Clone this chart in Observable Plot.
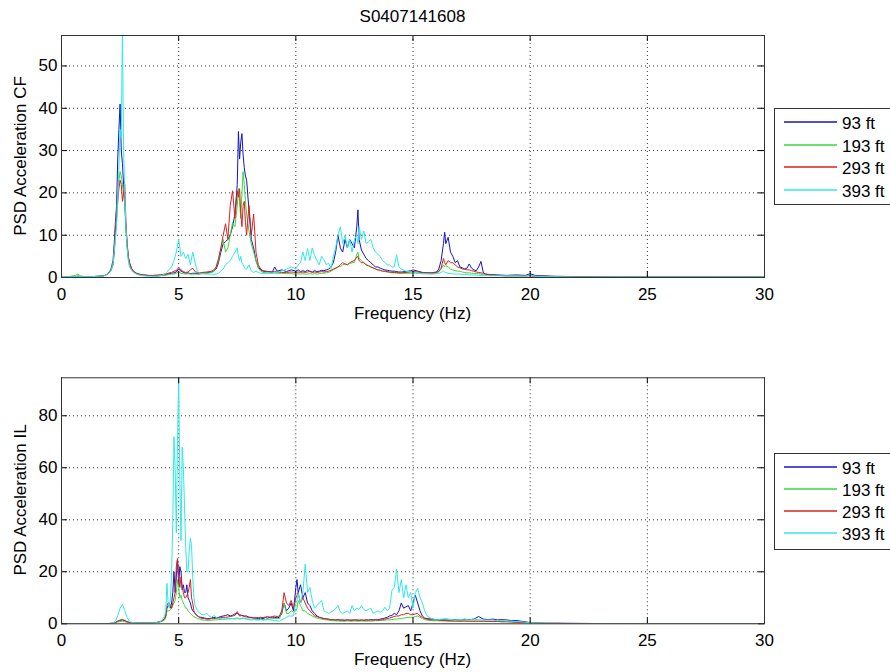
<!DOCTYPE html>
<html><head><meta charset="utf-8">
<script src="https://cdn.jsdelivr.net/npm/d3@7"></script>
<script src="https://cdn.jsdelivr.net/npm/@observablehq/plot@0.6"></script>
<style>
html,body{margin:0;padding:0;background:#fff;}
#fig{position:relative;width:890px;height:672px;overflow:hidden;background:#fff;font-family:"Liberation Sans",Arial,sans-serif;font-size:17px;color:#000;}
.abs{position:absolute;white-space:nowrap;line-height:20px;height:20px;}
</style></head><body><div id="fig"></div><script>
// ---------- data ----------
const title = "S0407141608";
const seriesNames = ["93 ft", "193 ft", "293 ft", "393 ft"];
const seriesColors = ["#1515c0", "#3ad83a", "#dd2020", "#30e8e8"];
const xTicks = [0, 5, 10, 15, 20, 25, 30];
const yTicksCF = [0, 10, 20, 30, 40, 50];
const yTicksIL = [0, 20, 40, 60, 80];
const xLabel = "Frequency (Hz)";
const yLabelCF = "PSD Acceleration CF";
const yLabelIL = "PSD Acceleration IL";

// Panel 1 (CF)
const freqCF = [
0, 0.3, 0.6, 0.7, 0.8, 1.0, 1.3, 1.6, 1.8, 1.9,
2.0, 2.1, 2.2, 2.25, 2.3, 2.35, 2.4, 2.45, 2.5, 2.55,
2.6, 2.65, 2.7, 2.75, 2.8, 2.85, 2.9, 3.0, 3.1, 3.2,
3.3, 3.5, 3.7, 3.9, 4.1, 4.3, 4.5, 4.6, 4.7, 4.8,
4.9, 5.0, 5.1, 5.2, 5.3, 5.4, 5.5, 5.6, 5.7, 5.8,
5.9, 6.0, 6.2, 6.4, 6.5, 6.6, 6.7, 6.8, 6.9, 7.0,
7.1, 7.2, 7.3, 7.4, 7.5, 7.55, 7.6, 7.65, 7.7, 7.75,
7.8, 7.85, 7.9, 8.0, 8.1, 8.2, 8.3, 8.4, 8.5, 8.6,
8.8, 9.0, 9.1, 9.2, 9.4, 9.6, 9.8, 10.0, 10.1, 10.2,
10.3, 10.4, 10.5, 10.6, 10.7, 10.8, 10.9, 11.0, 11.1, 11.2,
11.3, 11.4, 11.5, 11.6, 11.7, 11.8, 11.9, 12.0, 12.1, 12.2,
12.3, 12.4, 12.5, 12.6, 12.65, 12.7, 12.8, 12.9, 13.0, 13.1,
13.2, 13.3, 13.4, 13.5, 13.6, 13.7, 13.8, 13.9, 14.0, 14.1,
14.2, 14.3, 14.4, 14.5, 14.7, 14.9, 15.0, 15.2, 15.4, 15.6,
15.8, 16.0, 16.1, 16.2, 16.3, 16.35, 16.4, 16.5, 16.6, 16.7,
16.8, 16.9, 17.0, 17.1, 17.2, 17.3, 17.4, 17.5, 17.6, 17.7,
17.8, 17.9, 18.0, 18.1, 18.3, 18.6, 19.0, 19.4, 19.8, 20.0,
20.2, 20.6, 21, 22, 23, 24, 25, 26, 27, 28,
29, 30];
const cf93 = [
0.2, 0.2, 0.2, 0.3, 0.2, 0.2, 0.2, 0.3, 0.4, 0.6,
1.0, 1.8, 4, 8, 13, 17, 28, 35, 41, 30,
27, 22, 18, 12, 8, 5, 3.5, 2, 1.3, 1,
0.8, 0.6, 0.5, 0.4, 0.4, 0.5, 0.7, 0.9, 1, 1.1,
1.3, 2, 1.5, 1.2, 1, 1.1, 0.9, 1, 1, 0.9,
0.9, 1, 1.1, 1.3, 1.5, 2, 3.5, 6, 8, 8.5,
9, 10, 12, 15, 22, 34.5, 28, 32, 34, 29,
26, 24, 23, 16, 9, 7, 4, 2.5, 1.8, 1.5,
1.4, 1.3, 2.5, 1.5, 1.8, 1.4, 1.8, 1.5, 1.8, 1.4,
1.6, 1.4, 1.7, 1.5, 1.3, 1.6, 1.4, 1.5, 1.7, 1.6,
1.8, 2, 2.5, 3.5, 6, 10, 7, 6, 9, 7,
9, 8, 7, 12, 16, 9, 6.5, 5.5, 4.5, 4,
3.5, 3, 2.5, 2.5, 2.2, 2, 1.8, 1.7, 1.6, 1.5,
1.5, 1.4, 1.3, 1.3, 1.4, 1.6, 1.8, 1.5, 1.2, 1.1,
1.1, 1.3, 2, 4, 8, 10.7, 8, 9.5, 6, 5,
3.5, 4, 2.5, 2.3, 2, 2.2, 3.2, 2.2, 1.8, 1.6,
2.5, 3.8, 1.2, 0.8, 0.7, 0.6, 0.5, 0.6, 0.5, 0.9,
0.5, 0.4, 0.3, 0.2, 0.15, 0.1, 0.1, 0.1, 0.1, 0.1,
0.1, 0.1];
const cf193 = [
0.2, 0.2, 0.5, 0.8, 0.4, 0.2, 0.2, 0.3, 0.4, 0.6,
1.0, 1.6, 3.5, 6, 10, 15, 20, 23, 25, 24,
22, 20, 17, 11, 7, 4.5, 3, 1.8, 1.2, 0.9,
0.7, 0.5, 0.4, 0.4, 0.4, 0.5, 0.6, 0.7, 0.8, 0.8,
1, 1.3, 1, 0.9, 0.8, 0.9, 0.8, 0.8, 0.8, 0.8,
0.8, 0.9, 1, 1.2, 1.4, 2.5, 4, 7, 9, 6,
7, 10, 13, 12, 17, 21, 18, 14, 20, 25,
22, 18, 15, 11, 8, 6, 4, 2.2, 1.5, 1.2,
1.1, 1, 1.1, 1, 1, 0.9, 0.9, 0.8, 0.9, 0.8,
0.9, 0.8, 0.8, 0.9, 0.8, 0.9, 0.8, 0.9, 1, 1,
1.1, 1.2, 1.5, 1.8, 2.2, 2.5, 2.6, 3, 3.2, 3,
3.3, 3.5, 3.6, 5.5, 6, 4.5, 4, 3.5, 3, 2.8,
2.5, 2.2, 2, 1.8, 1.7, 1.5, 1.4, 1.3, 1.2, 1.1,
1.1, 1, 1, 1, 1, 1, 1.1, 1, 0.9, 0.9,
0.9, 1, 1.3, 2, 3, 2.5, 2.8, 2.5, 2, 1.8,
1.6, 1.5, 1.5, 1.3, 1.2, 1.1, 1.1, 1, 1, 0.9,
0.9, 0.8, 0.7, 0.6, 0.5, 0.5, 0.4, 0.4, 0.4, 0.5,
0.3, 0.3, 0.2, 0.15, 0.1, 0.1, 0.1, 0.1, 0.1, 0.1,
0.1, 0.1];
const cf293 = [
0.2, 0.2, 0.2, 0.3, 0.2, 0.2, 0.2, 0.3, 0.4, 0.6,
1.0, 1.5, 3, 6, 11, 14, 18, 21, 23, 22,
18, 20, 22, 13, 8, 5, 3.5, 2, 1.3, 1,
0.8, 0.6, 0.5, 0.5, 0.6, 0.7, 0.9, 1.1, 1.2, 1.5,
1.6, 2.4, 1.8, 1.4, 1.2, 1.3, 1.8, 2.2, 1.4, 1.2,
1.1, 1.2, 1.3, 1.5, 1.8, 2.5, 4.5, 7, 10, 12.7,
9, 17, 20.5, 14, 20.5, 19, 21, 15, 12, 17,
18, 13, 10, 17, 10, 15, 6, 3, 2, 1.6,
1.4, 1.3, 1.4, 1.3, 1.2, 1.2, 1.3, 1.2, 1.3, 1.2,
1.3, 1.2, 1.3, 1.4, 1.2, 1.3, 1.2, 1.3, 1.4, 1.3,
1.4, 1.5, 1.7, 2, 2.2, 2.5, 3, 3.5, 3.2, 3,
3.5, 3.8, 4, 4.8, 5, 4, 3.5, 3.5, 3, 2.8,
2.5, 2.3, 2, 1.8, 1.7, 1.5, 1.5, 1.4, 1.3, 1.2,
1.2, 1.2, 1.1, 1.1, 1.2, 1.3, 1.4, 1.3, 1.2, 1.1,
1.1, 1.2, 1.5, 2.2, 4.5, 3.5, 3, 4, 3.5, 3.5,
3, 2.5, 2.3, 2, 2, 1.8, 1.8, 1.6, 1.5, 1.3,
1.2, 1.1, 1, 0.8, 0.6, 0.5, 0.4, 0.4, 0.4, 0.4,
0.3, 0.3, 0.2, 0.15, 0.1, 0.1, 0.1, 0.1, 0.1, 0.1,
0.1, 0.1];
const cf393 = [
0.2, 0.2, 0.2, 0.3, 0.2, 0.2, 0.2, 0.3, 0.4, 0.6,
1.0, 1.5, 3, 6, 9, 12, 18, 26, 35, 33,
58, 30, 20, 12, 7, 4, 2.5, 1.6, 1.1, 0.8,
0.6, 0.4, 0.3, 0.3, 0.3, 0.5, 1.2, 2, 2.5, 4,
6, 9, 5, 6, 4.5, 5.5, 3, 6, 3.5, 1.5,
1, 0.9, 0.8, 0.8, 0.7, 0.8, 1, 1.5, 2, 3,
3.5, 4, 5, 6, 7, 5, 4, 5, 3.5, 3,
2.5, 2, 2, 3, 1.5, 1.2, 1.5, 1.2, 1, 1,
1, 1, 1.1, 1.2, 1.5, 2, 2.5, 2, 3, 3.5,
6, 4, 6.8, 4, 7, 5.2, 4, 3, 5, 4.2,
3, 3.4, 2, 5, 7, 10, 12, 8, 10, 7,
9, 6, 9, 10, 8, 12, 9, 11, 8, 8.5,
9, 7, 6, 5.5, 5, 4, 3.5, 3, 3, 2.5,
2.5, 5.4, 2.5, 2, 1.5, 1.3, 1.2, 1, 0.9, 0.9,
0.8, 0.9, 1, 1.2, 1.5, 1.3, 1.2, 1, 0.9, 0.9,
0.8, 0.8, 0.8, 0.7, 0.7, 0.7, 0.6, 0.6, 0.6, 0.6,
0.5, 0.5, 0.5, 0.5, 0.4, 0.4, 0.4, 0.4, 0.3, 0.6,
0.3, 0.2, 0.2, 0.1, 0.1, 0.1, 0.1, 0.1, 0.1, 0.1,
0.1, 0.1];

// Panel 2 (IL)
const freqIL = [
0, 0.5, 1.0, 1.5, 2.0, 2.2, 2.3, 2.4, 2.5, 2.6,
2.7, 2.8, 2.9, 3.0, 3.2, 3.5, 3.8, 4.0, 4.2, 4.3,
4.4, 4.45, 4.5, 4.55, 4.6, 4.65, 4.7, 4.75, 4.8, 4.85,
4.9, 4.95, 5.0, 5.05, 5.1, 5.15, 5.2, 5.25, 5.3, 5.35,
5.4, 5.45, 5.5, 5.55, 5.6, 5.65, 5.7, 5.8, 5.9, 6.0,
6.1, 6.2, 6.3, 6.4, 6.5, 6.6, 6.7, 6.8, 6.9, 7.0,
7.1, 7.2, 7.3, 7.4, 7.5, 7.6, 7.7, 7.8, 7.9, 8.0,
8.1, 8.2, 8.3, 8.4, 8.5, 8.6, 8.7, 8.8, 8.9, 9.0,
9.1, 9.2, 9.3, 9.4, 9.5, 9.6, 9.7, 9.8, 9.9, 10.0,
10.05, 10.1, 10.2, 10.3, 10.4, 10.5, 10.6, 10.7, 10.8, 10.9,
11.0, 11.1, 11.2, 11.3, 11.4, 11.5, 11.6, 11.7, 11.8, 11.9,
12.0, 12.1, 12.2, 12.3, 12.4, 12.5, 12.6, 12.7, 12.8, 12.9,
13.0, 13.1, 13.2, 13.3, 13.4, 13.5, 13.6, 13.7, 13.8, 13.9,
14.0, 14.1, 14.2, 14.3, 14.4, 14.5, 14.6, 14.7, 14.8, 14.9,
15.0, 15.1, 15.2, 15.3, 15.4, 15.5, 15.6, 15.8, 16.0, 16.2,
16.4, 16.6, 16.8, 17.0, 17.2, 17.4, 17.6, 17.8, 18.0, 18.2,
18.4, 18.6, 18.8, 19.0, 19.2, 19.4, 19.6, 19.8, 20.0, 20.3,
20.6, 21, 22, 23, 24, 25, 26, 27, 28, 29,
30];
const il93 = [
0.1, 0.1, 0.1, 0.1, 0.1, 0.2, 0.5, 1, 1.3, 1.5,
1.2, 0.8, 0.5, 0.4, 0.3, 0.3, 0.3, 0.4, 0.8, 1.2,
2, 3, 6, 7, 7, 6, 8, 12, 20, 12,
18, 25, 15, 22, 20, 13, 15, 12, 12, 15,
10, 9, 8, 6, 5, 4.5, 4, 3, 2.5, 2.5,
2.2, 2, 2, 2.2, 2.5, 2.3, 2.5, 2.8, 3, 3.2,
3.5, 3, 3.3, 3.8, 4, 3.5, 3.2, 3, 3, 2.5,
2.5, 2.3, 2.2, 2, 2.2, 2, 2.4, 2.2, 2.5, 2.5,
2.5, 2.3, 2.5, 4, 8, 5, 6, 8, 5, 14,
17, 12, 15, 10, 12, 8, 7, 5, 4, 3,
2.5, 2.2, 2, 1.8, 1.7, 1.5, 1.5, 1.4, 1.5, 1.4,
1.4, 1.3, 1.5, 1.4, 1.3, 1.5, 1.4, 1.3, 1.4, 1.3,
1.5, 1.4, 1.6, 1.5, 1.6, 1.5, 1.8, 2, 2.2, 2.5,
3, 3.2, 4, 3.5, 5, 8, 6, 6.5, 7, 5,
8, 11, 8, 5, 3, 2.2, 2, 1.8, 1.6, 1.5,
1.5, 1.4, 1.6, 1.5, 1.7, 1.6, 1.8, 2.8, 1.8, 1.6,
1.8, 1.5, 1.6, 1.5, 1.2, 1.3, 1, 0.8, 0.4, 0.3,
0.2, 0.2, 0.15, 0.1, 0.1, 0.1, 0.1, 0.1, 0.1, 0.1,
0.1];
const il193 = [
0.1, 0.1, 0.1, 0.1, 0.1, 0.2, 0.4, 0.7, 0.9, 1,
0.8, 0.6, 0.4, 0.3, 0.3, 0.3, 0.3, 0.4, 0.7, 1,
1.5, 2.5, 5, 5, 5, 5.5, 6, 7, 8, 9,
12, 17, 14, 10, 11, 9, 8, 7, 6, 6,
5, 4.5, 4, 3.5, 3, 2.8, 2.5, 2, 1.8, 1.5,
1.4, 1.3, 1.3, 1.4, 1.5, 1.5, 1.6, 1.7, 1.8, 1.8,
1.9, 2, 2, 2.1, 2.2, 2, 2.2, 2, 1.9, 1.8,
1.8, 1.7, 1.6, 1.6, 1.7, 1.6, 1.7, 1.8, 1.8, 2,
2, 2, 2, 5, 8, 4, 4, 5, 4.5, 5,
6, 9, 7, 5, 5, 4, 3.5, 3, 2.5, 2.2,
2, 1.8, 1.6, 1.5, 1.4, 1.2, 1.2, 1.1, 1.1, 1,
1, 1, 1.1, 1, 1, 1.1, 1, 1, 1.1, 1,
1, 1.1, 1, 1.1, 1.2, 1.2, 1.3, 1.3, 1.4, 1.5,
1.5, 1.6, 1.8, 1.8, 2, 2, 2.2, 2.3, 2.5, 2.5,
2.5, 2.8, 3, 2.5, 2, 1.6, 1.4, 1.2, 1.2, 1.1,
1.1, 1, 1, 1, 1, 1, 1, 1, 1, 1,
0.9, 0.9, 0.8, 0.8, 0.7, 0.6, 0.5, 0.4, 0.3, 0.2,
0.2, 0.15, 0.1, 0.1, 0.1, 0.1, 0.1, 0.1, 0.1, 0.1,
0.1];
const il293 = [
0.1, 0.1, 0.1, 0.1, 0.1, 0.2, 0.5, 1, 1.4, 1.6,
1.3, 0.8, 0.5, 0.4, 0.3, 0.3, 0.3, 0.4, 0.8, 1.2,
2, 3, 7, 8, 8, 7, 6, 8, 10, 12,
22, 25, 18, 14, 18, 14, 12, 10, 10, 11,
12, 14, 17, 10, 8, 5, 4, 3, 2.5, 2,
2, 1.8, 1.8, 2, 2, 2.2, 2.2, 2.4, 2.5, 2.5,
2.6, 2.8, 3, 3.2, 4.7, 3, 3.2, 2.8, 2.6, 2.5,
2.4, 2.2, 2.3, 2.4, 2.5, 2.4, 2.6, 2.8, 2.5, 2.8,
3, 2.8, 3, 5, 12, 8, 7, 9, 6, 10,
11, 12, 8, 10, 8, 6, 5, 4, 3, 2.8,
2.5, 2.3, 2, 2, 1.8, 1.6, 1.6, 1.5, 1.6, 1.5,
1.5, 1.4, 1.5, 1.4, 1.5, 1.4, 1.5, 1.4, 1.5, 1.4,
1.5, 1.4, 1.5, 1.4, 1.5, 1.4, 1.5, 1.6, 1.8, 2,
2.2, 2.5, 2.8, 3, 3, 3.5, 3.5, 4, 4, 3.5,
3.5, 3.8, 4, 3, 2.5, 2, 1.8, 1.5, 1.5, 1.3,
1.2, 1.1, 1.1, 1, 1.1, 1, 1, 1, 1, 0.9,
0.9, 0.9, 0.8, 0.8, 0.7, 0.6, 0.5, 0.5, 0.4, 0.3,
0.2, 0.2, 0.15, 0.1, 0.1, 0.1, 0.1, 0.1, 0.1, 0.1,
0.1];
const il393 = [
0.1, 0.1, 0.1, 0.1, 0.1, 0.3, 1, 3, 6, 7.5,
5, 2.5, 1, 0.5, 0.3, 0.3, 0.3, 0.4, 0.8, 1.5,
3, 5, 15.5, 8, 6, 10, 20, 40, 72, 60,
35, 70, 95, 55, 32, 68, 60, 45, 30, 20,
20, 28, 33, 30, 18, 10, 7, 5, 4, 3.5,
3.5, 4, 3, 2.5, 3.2, 2.5, 2, 2, 1.8, 1.8,
2, 1.8, 2, 1.8, 2, 1.8, 2, 2.2, 1.8, 1.6,
1.5, 1.6, 1.5, 1.4, 1.5, 1.4, 1.5, 1.6, 1.5, 1.4,
1.2, 1.2, 1, 1.5, 2, 2.5, 3, 3, 3, 8,
9, 11.6, 8, 12, 23, 12, 14, 9, 6, 7,
8, 9, 5, 4.5, 4, 4.5, 5, 6, 7, 4.5,
4, 4.5, 5, 4, 7, 5, 6, 5.5, 7, 5.5,
5, 5.5, 6, 4, 4.5, 5, 4.5, 5, 6.4, 5,
6, 12.8, 14, 21, 12, 17, 10, 15, 10, 12,
6, 12, 13.6, 10, 8, 5, 3, 2, 1.5, 1.8,
2, 1.6, 1.5, 1.6, 1.8, 1.5, 1.8, 1.6, 1.4, 1.5,
1.4, 1.2, 1.2, 1.1, 1, 0.9, 0.8, 0.6, 0.4, 0.3,
0.2, 0.15, 0.1, 0.1, 0.1, 0.1, 0.1, 0.1, 0.1, 0.1,
0.1];

// ---------- layout ----------
const W = 890, PH = 336, FL = 61, FR = 764;
const panels = [
  {top: 0, freq: freqCF, vals: [cf93, cf193, cf293, cf393], ymax: 57.2, yTicks: yTicksCF,
   mTop: 35, mBot: 59, yLabel: yLabelCF, legTop: 108, legH: 96, legRows: [122, 145, 167, 190]},
  {top: 336, freq: freqIL, vals: [il93, il193, il293, il393], ymax: 94.6, yTicks: yTicksIL,
   mTop: 41.3, mBot: 48.7, yLabel: yLabelIL, legTop: 453, legH: 96, legRows: [467, 489, 511, 533]}
];

const fig = document.getElementById("fig");
function addText(txt, style) {
  const d = document.createElement("div");
  d.className = "abs";
  d.textContent = txt;
  Object.assign(d.style, style);
  fig.appendChild(d);
  return d;
}

// title
addText(title, {left: FL + "px", width: (FR - FL) + "px", top: "7px", textAlign: "center"});

panels.forEach(p => {
  p.vals.forEach((v, i) => { if (v.length !== p.freq.length) throw new Error("length mismatch " + seriesNames[i] + " " + v.length + " vs " + p.freq.length); });
  const data = [];
  p.vals.forEach((v, i) => p.freq.forEach((f, j) => data.push({f, v: v[j], s: seriesNames[i]})));
  const innerH = PH - p.mTop - p.mBot, innerW = FR - FL;
  const tk = 6;
  const dy = p.ymax * tk / innerH, dx = 30 * tk / innerW;
  const gx = xTicks.filter(d => d > 0 && d < 30), gy = p.yTicks.filter(d => d > 0);
  const chart = Plot.plot({
    width: W, height: PH,
    marginLeft: FL, marginRight: W - FR, marginTop: p.mTop, marginBottom: p.mBot,
    style: {fontFamily: '"Liberation Sans", Arial, sans-serif', fontSize: "17px", background: "transparent", color: "#000", overflow: "visible"},
    x: {domain: [0, 30]},
    y: {domain: [0, p.ymax]},
    color: {domain: seriesNames, range: seriesColors},
    marks: [
      Plot.ruleX(gx, {x: d => d, stroke: "#333", strokeDasharray: "1,3"}),
      Plot.ruleY(gy, {y: d => d, stroke: "#333", strokeDasharray: "1,3"}),
      Plot.lineY(data, {x: "f", y: "v", z: "s", stroke: "s", strokeWidth: 1, clip: true}),
      Plot.ruleX(xTicks, {x: d => d, y1: 0, y2: dy, stroke: "#000"}),
      Plot.ruleX(xTicks, {x: d => d, y1: p.ymax - dy, y2: p.ymax, stroke: "#000"}),
      Plot.ruleY(p.yTicks, {y: d => d, x1: 0, x2: dx, stroke: "#000"}),
      Plot.ruleY(p.yTicks, {y: d => d, x1: 30 - dx, x2: 30, stroke: "#000"}),
      Plot.axisX(xTicks, {tickSize: 0, tickPadding: 10, label: null, fontSize: 17}),
      Plot.axisY(p.yTicks, {tickSize: 0, tickPadding: 4, label: null, fontSize: 17}),
      Plot.frame({stroke: "#333"})
    ]
  });
  chart.style.position = "absolute";
  chart.style.left = "0px";
  chart.style.top = p.top + "px";
  fig.appendChild(chart);

  const axisY = p.top + PH - p.mBot;
  // x label
  addText(xLabel, {left: FL + "px", width: (FR - FL) + "px", top: (axisY + 42.7 - 15.9) + "px", textAlign: "center"});
  // y label rotated
  const cy = p.top + p.mTop + innerH / 2;
  addText(p.yLabel, {left: (21.1 - 150) + "px", width: "300px", top: (cy - 10) + "px", textAlign: "center", transform: "rotate(-90deg)", transformOrigin: "50% 50%"});

  // legend (box + sample lines in an SVG, labels as text)
  const ns = "http://www.w3.org/2000/svg";
  const lsvg = document.createElementNS(ns, "svg");
  lsvg.setAttribute("width", 116);
  lsvg.setAttribute("height", p.legH + 2);
  Object.assign(lsvg.style, {position: "absolute", left: "774px", top: p.legTop + "px", overflow: "visible"});
  const rect = document.createElementNS(ns, "rect");
  rect.setAttribute("x", 0.5); rect.setAttribute("y", 0.5);
  rect.setAttribute("width", 130); rect.setAttribute("height", p.legH);
  rect.setAttribute("fill", "#fff"); rect.setAttribute("stroke", "#333"); rect.setAttribute("stroke-width", 1);
  lsvg.appendChild(rect);
  seriesNames.forEach((n, i) => {
    const y = p.legRows[i] - p.legTop;
    const ln = document.createElementNS(ns, "line");
    ln.setAttribute("x1", 10); ln.setAttribute("x2", 63);
    ln.setAttribute("y1", y); ln.setAttribute("y2", y);
    ln.setAttribute("stroke", seriesColors[i]);
    ln.setAttribute("stroke-width", 1.4);
    lsvg.appendChild(ln);
  });
  fig.appendChild(lsvg);
  seriesNames.forEach((n, i) => {
    const y = p.legRows[i];
    addText(n, {left: "842px", top: Math.round(y + 7.7 - 15.9) + "px"});
  });
});
</script></body></html>
